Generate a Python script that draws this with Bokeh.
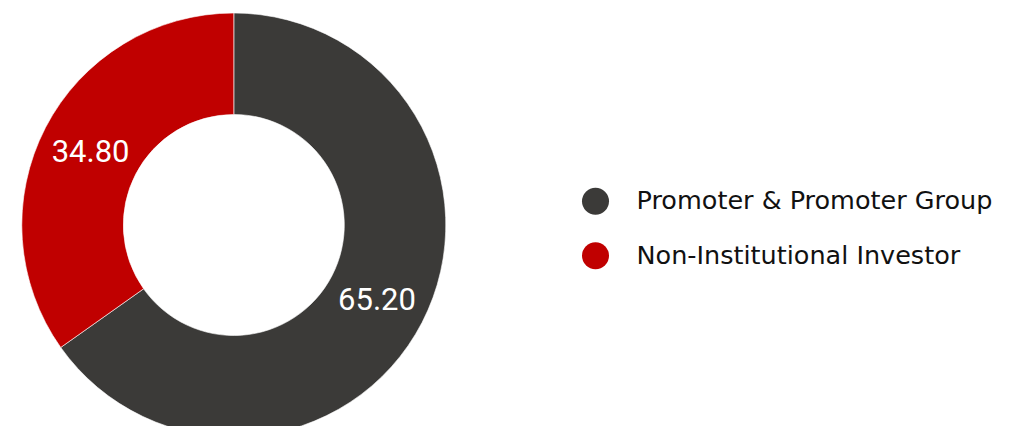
import numpy as np
from bokeh.plotting import figure
from bokeh.models import Range1d, ColumnDataSource
from bokeh.core.properties import value
from bokeh.embed import file_html
from bokeh.resources import INLINE

# ---- data ----
categories = ["Promoter & Promoter Group", "Non-Institutional Investor"]
values = [65.20, 34.80]
labels = ["65.20", "34.80"]
colors = ["#3b3a38", "#c00000"]

W, H = 1004, 426
p = figure(width=W, height=H, output_backend="svg", toolbar_location=None,
           x_range=Range1d(0, W), y_range=Range1d(0, H), min_border=0,
           tools="")
p.axis.visible = False
p.grid.visible = False
p.outline_line_color = None
p.background_fill_color = "white"
p.border_fill_color = "white"

# pixel-style coordinates measured from the top-left
cx, cy = 233.3, H - 224.5
r_out, r_in = 212, 110.5

vals = np.array(values, dtype=float)
frac = vals / vals.sum()
cum = np.concatenate([[0], np.cumsum(frac)])
start = np.pi / 2 - 2 * np.pi * cum[:-1]
end = np.pi / 2 - 2 * np.pi * cum[1:]
mid = (start + end) / 2
r_mid = (r_out + r_in) / 2

src = ColumnDataSource(dict(start=start, end=end, color=colors,
                            lx=cx + r_mid * np.cos(mid), ly=cy + r_mid * np.sin(mid),
                            label=labels))
p.annular_wedge(x=cx, y=cy, inner_radius=r_in, outer_radius=r_out,
                start_angle="start", end_angle="end", direction="clock",
                fill_color="color", line_color="white", line_width=0.6, source=src)
p.text(x="lx", y="ly", text="label", source=src, text_color="white",
       text_font=value("Roboto"), text_font_size="31px",
       text_align="center", text_baseline="middle")

# legend
n = len(categories)
dot_y = [H - (200.7 + 54.5 * i) for i in range(n)]
base_y = [H - (199.0 + 55 * i) for i in range(n)]
leg = ColumnDataSource(dict(dy=dot_y, by=base_y, color=colors, name=categories))
p.scatter(x=595, y="dy", size=27, marker="circle", fill_color="color",
          line_color=None, source=leg)
p.text(x=636, y="by", text="name", source=leg, text_color="#111111",
       text_font=value("DejaVu Sans"), text_font_size="25.5px",
       text_align="left", text_baseline="alphabetic")

open("out.html", "w").write(file_html(p, INLINE))
